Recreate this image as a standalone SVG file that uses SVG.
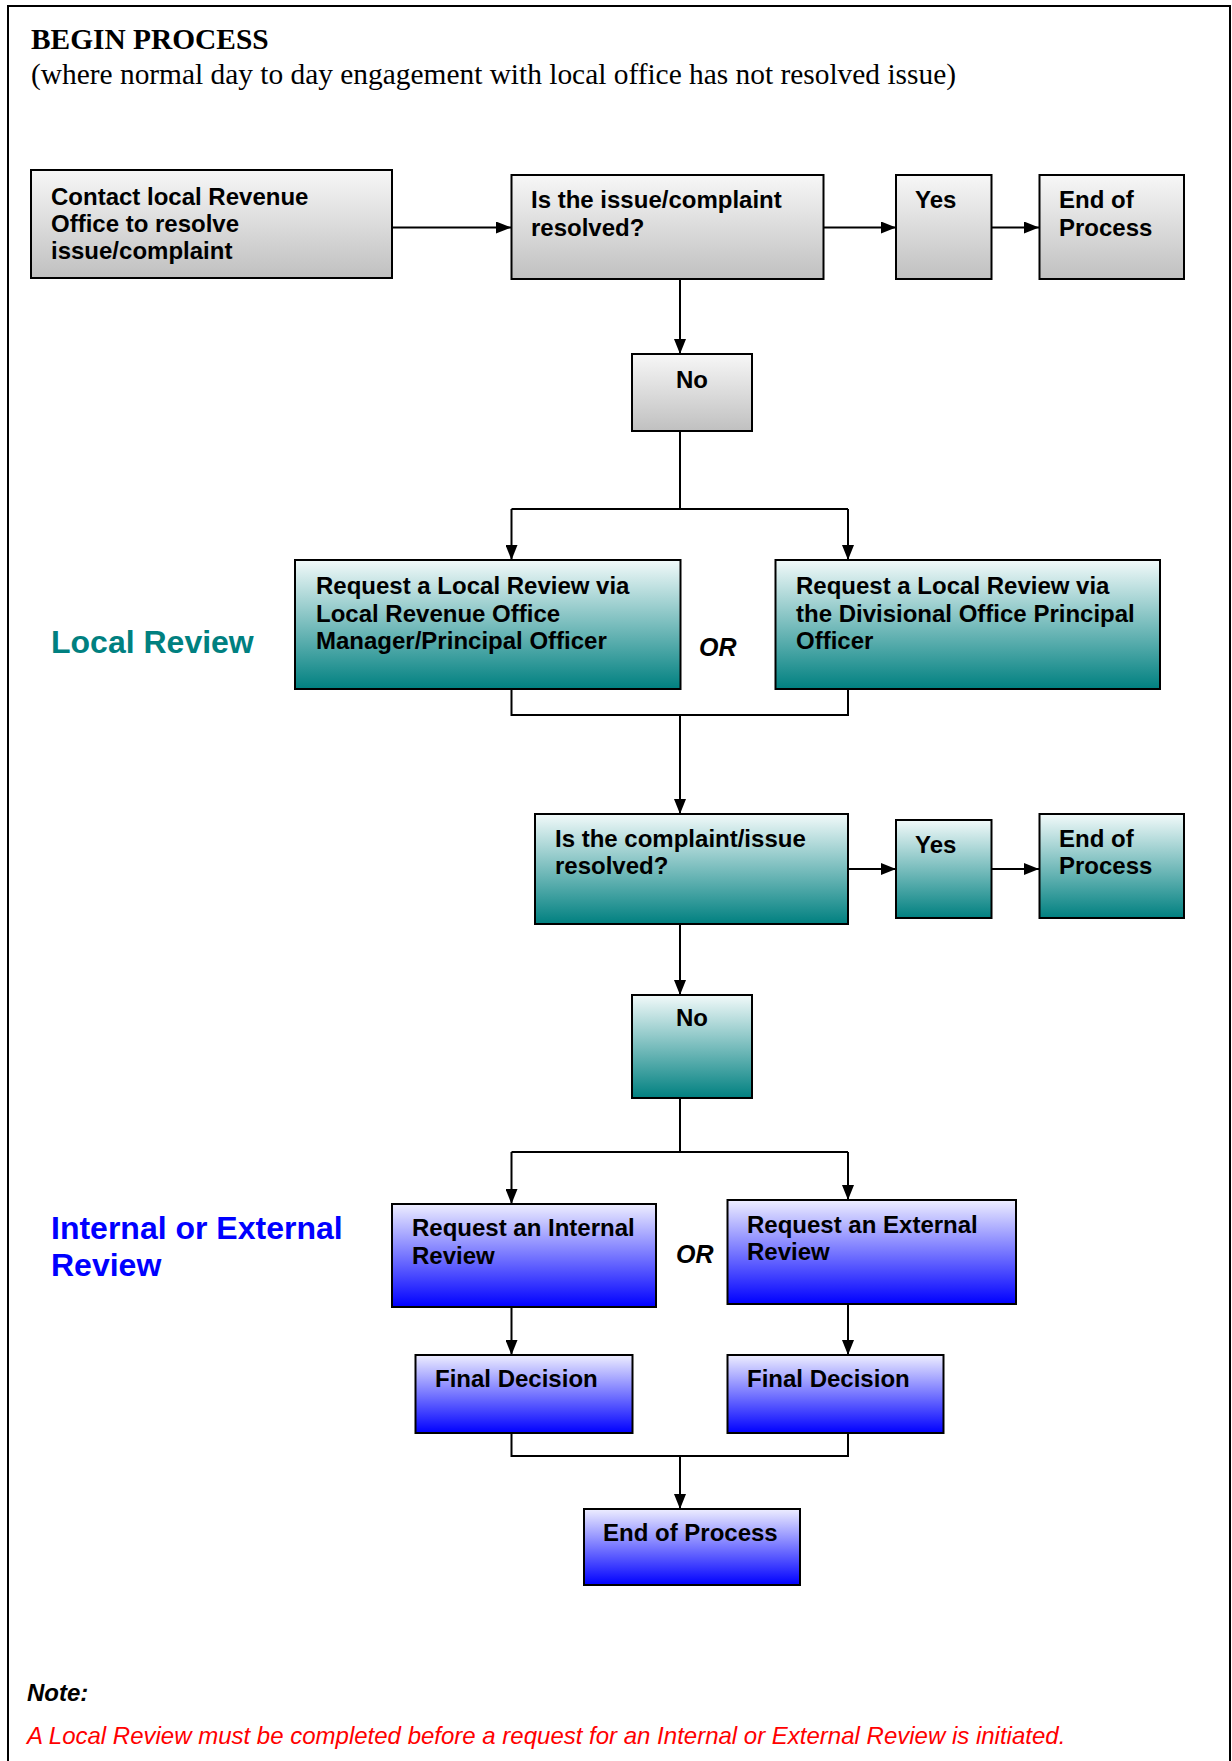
<svg xmlns="http://www.w3.org/2000/svg" width="1232" height="1761" viewBox="0 0 1232 1761">
<style>
.box{stroke:#000;stroke-width:2}
.g{fill:url(#gGray)}
.t{fill:url(#gTeal)}
.b{fill:url(#gBlue)}
.bt{font-family:"Liberation Sans",Arial,sans-serif;font-weight:bold;font-size:24px;fill:#000}
.c{fill:none;stroke:#000;stroke-width:2}
.a{marker-end:url(#arr)}
.side{font-family:"Liberation Sans",Arial,sans-serif;font-weight:bold;font-size:32px}
.or{font-family:"Liberation Sans",Arial,sans-serif;font-weight:bold;font-style:italic;font-size:25px;fill:#000}
</style>
<defs>
<linearGradient id="gGray" x1="0" y1="0" x2="0" y2="1">
<stop offset="0" stop-color="#F7F7F7"/><stop offset="1" stop-color="#C0C0C0"/>
</linearGradient>
<linearGradient id="gTeal" x1="0" y1="0" x2="0" y2="1">
<stop offset="0" stop-color="#F2FAFA"/><stop offset="1" stop-color="#008080"/>
</linearGradient>
<linearGradient id="gBlue" x1="0" y1="0" x2="0" y2="1">
<stop offset="0" stop-color="#EEEEFF"/><stop offset="1" stop-color="#0000FF"/>
</linearGradient>
<marker id="arr" markerUnits="userSpaceOnUse" markerWidth="15" markerHeight="12" refX="15" refY="6" orient="auto">
<path d="M0,0 L15,6 L0,12 z" fill="#000"/>
</marker>
</defs>
<rect x="0" y="0" width="1232" height="1761" fill="#fff"/>
<rect x="8" y="6" width="1222" height="1800" fill="none" stroke="#000" stroke-width="2"/>

<text x="31" y="49" font-family="'Liberation Serif','Times New Roman',serif" font-weight="bold" font-size="29.4">BEGIN PROCESS</text>
<text x="31" y="84" font-family="'Liberation Serif','Times New Roman',serif" font-size="29.4">(where normal day to day engagement with local office has not resolved issue)</text>

<text class="side" x="51" y="653" fill="#008080">Local Review</text>
<text class="side" fill="#0000FF"><tspan x="51" y="1239">Internal or External</tspan><tspan x="51" y="1276">Review</tspan></text>
<text class="or" x="699" y="656">OR</text>
<text class="or" x="676" y="1263">OR</text>

<g id="connectors">
<line class="c a" x1="392" y1="227.5" x2="511" y2="227.5"/>
<line class="c a" x1="824" y1="227.5" x2="896" y2="227.5"/>
<line class="c a" x1="992" y1="227.5" x2="1039" y2="227.5"/>
<line class="c a" x1="680" y1="279" x2="680" y2="354"/>
<line class="c" x1="680" y1="431" x2="680" y2="509"/>
<line class="c" x1="511.5" y1="509" x2="848" y2="509"/>
<line class="c a" x1="511.5" y1="509" x2="511.5" y2="560"/>
<line class="c a" x1="848" y1="509" x2="848" y2="560"/>
<polyline class="c" points="511.5,689 511.5,715 848,715 848,689"/>
<line class="c a" x1="680" y1="715" x2="680" y2="814"/>
<line class="c a" x1="848" y1="869" x2="896" y2="869"/>
<line class="c a" x1="992" y1="869" x2="1039" y2="869"/>
<line class="c a" x1="680" y1="924" x2="680" y2="995"/>
<line class="c" x1="680" y1="1098" x2="680" y2="1152"/>
<line class="c" x1="511.5" y1="1152" x2="848" y2="1152"/>
<line class="c a" x1="511.5" y1="1152" x2="511.5" y2="1204"/>
<line class="c a" x1="848" y1="1152" x2="848" y2="1200"/>
<line class="c a" x1="511.5" y1="1307" x2="511.5" y2="1355"/>
<line class="c a" x1="848" y1="1304" x2="848" y2="1355"/>
<polyline class="c" points="511.5,1433 511.5,1456 848,1456 848,1433"/>
<line class="c a" x1="680" y1="1456" x2="680" y2="1509"/>
</g>

<g id="contact">
<rect class="box g" x="31" y="170" width="361" height="108"/>
<text class="bt"><tspan x="51" y="205">Contact local Revenue</tspan><tspan x="51" y="232">Office to resolve</tspan><tspan x="51" y="259">issue/complaint</tspan></text>
</g>
<g id="resolved1">
<rect class="box g" x="511.5" y="175" width="312" height="104"/>
<text class="bt"><tspan x="531" y="208">Is the issue/complaint</tspan><tspan x="531" y="236">resolved?</tspan></text>
</g>
<g id="yes1">
<rect class="box g" x="896" y="175" width="95.5" height="104"/>
<text class="bt" x="915" y="208">Yes</text>
</g>
<g id="end1">
<rect class="box g" x="1039.5" y="175" width="144.5" height="104"/>
<text class="bt"><tspan x="1059" y="208">End of</tspan><tspan x="1059" y="236">Process</tspan></text>
</g>
<g id="no1">
<rect class="box g" x="632" y="354" width="120" height="77"/>
<text class="bt" x="676" y="388">No</text>
</g>
<g id="local1">
<rect class="box t" x="295" y="560" width="385.5" height="129"/>
<text class="bt"><tspan x="316" y="594">Request a Local Review via</tspan><tspan x="316" y="622">Local Revenue Office</tspan><tspan x="316" y="649">Manager/Principal Officer</tspan></text>
</g>
<g id="local2">
<rect class="box t" x="775.5" y="560" width="384.5" height="129"/>
<text class="bt"><tspan x="796" y="594">Request a Local Review via</tspan><tspan x="796" y="622">the Divisional Office Principal</tspan><tspan x="796" y="649">Officer</tspan></text>
</g>
<g id="resolved2">
<rect class="box t" x="535" y="814" width="313" height="110"/>
<text class="bt"><tspan x="555" y="847">Is the complaint/issue</tspan><tspan x="555" y="874">resolved?</tspan></text>
</g>
<g id="yes2">
<rect class="box t" x="896" y="820" width="95.5" height="98"/>
<text class="bt" x="915" y="853">Yes</text>
</g>
<g id="end2">
<rect class="box t" x="1039.5" y="814" width="144.5" height="104"/>
<text class="bt"><tspan x="1059" y="847">End of</tspan><tspan x="1059" y="874">Process</tspan></text>
</g>
<g id="no2">
<rect class="box t" x="632" y="995" width="120" height="103"/>
<text class="bt" x="676" y="1026">No</text>
</g>
<g id="internal">
<rect class="box b" x="392" y="1204" width="264" height="103"/>
<text class="bt"><tspan x="412" y="1236">Request an Internal</tspan><tspan x="412" y="1264">Review</tspan></text>
</g>
<g id="external">
<rect class="box b" x="727.5" y="1200" width="288.5" height="104"/>
<text class="bt"><tspan x="747" y="1233">Request an External</tspan><tspan x="747" y="1260">Review</tspan></text>
</g>
<g id="final1">
<rect class="box b" x="415.5" y="1355" width="217" height="78"/>
<text class="bt" x="435" y="1387">Final Decision</text>
</g>
<g id="final2">
<rect class="box b" x="727.5" y="1355" width="216" height="78"/>
<text class="bt" x="747" y="1387">Final Decision</text>
</g>
<g id="end3">
<rect class="box b" x="584" y="1509" width="216" height="76"/>
<text class="bt" x="603" y="1541">End of Process</text>
</g>

<text x="27" y="1701" font-family="'Liberation Sans',Arial,sans-serif" font-weight="bold" font-style="italic" font-size="24" fill="#000">Note:</text>
<text x="27" y="1744" font-family="'Liberation Sans',Arial,sans-serif" font-style="italic" font-size="24" fill="#FF0000">A Local Review must be completed before a request for an Internal or External Review is initiated.</text>
</svg>
